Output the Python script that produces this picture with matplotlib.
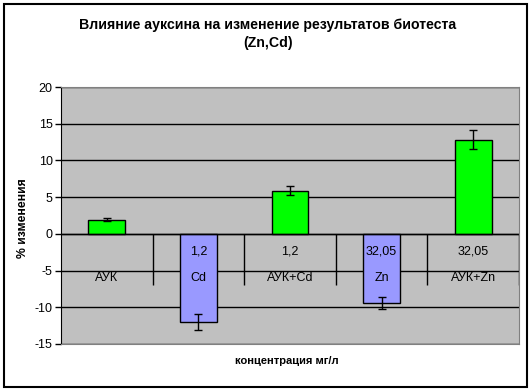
import matplotlib.pyplot as plt
import numpy as np
from matplotlib.patches import Rectangle

plt.rcParams['font.family'] = ['Liberation Sans', 'DejaVu Sans']
plt.rcParams['axes.unicode_minus'] = False

# Данные
names = ['АУК', 'Cd', 'АУК+Cd', 'Zn', 'АУК+Zn']
conc = ['', '1,2', '1,2', '32,05', '32,05']
values = [1.9, -12.0, 5.9, -9.4, 12.8]
errors = [0.2, 1.15, 0.6, 0.85, 1.3]
colors = ['#00FF00', '#9999FF', '#00FF00', '#9999FF', '#00FF00']

W, H = 532, 391
fig = plt.figure(figsize=(W / 100, H / 100), dpi=100)
ax = fig.add_axes([61 / W, 1 - 344 / H, (519 - 61) / W, (344 - 87) / H])
ax.set_facecolor('#C0C0C0')

x = np.arange(len(names))
ax.set_axisbelow(True)
ax.yaxis.grid(True, color='black', linewidth=1)
ax.bar(x, values, width=0.4, color=colors, edgecolor='black', linewidth=1, zorder=2)
ax.errorbar(x, values, yerr=errors, fmt='none', ecolor='black', elinewidth=1,
            capsize=3, capthick=1, zorder=3)

# ось категорий на нуле
ax.axhline(0, color='black', linewidth=1, zorder=2.5)
ax.vlines(x + 0.5, -6.9, 0, color='black', linewidth=1, zorder=2.5)
for i in x:
    if conc[i]:
        ax.text(i, -2.4, conc[i], ha='center', va='center', fontsize=9, zorder=4)
    ax.text(i, -6.0, names[i], ha='center', va='center', fontsize=9, zorder=4)

ax.set_xlim(-0.5, len(names) - 0.5)
ax.set_ylim(-15, 20)
ax.set_yticks(np.arange(-15, 21, 5))
ax.set_xticks([])
ax.tick_params(axis='y', labelsize=9, length=4, width=1, pad=2)
for s in ['top', 'right', 'bottom']:
    ax.spines[s].set_color('#808080')
ax.spines['left'].set_color('black')

ax.set_ylabel('% изменения', fontsize=8.8, fontweight='bold')
ax.yaxis.set_label_coords((29 - 61) / (519 - 61), 0.49)
fig.text(287 / W, 1 - 361 / H, 'концентрация мг/л', ha='center', va='center',
         fontsize=8, fontweight='bold')
fig.text(268 / W, 1 - 34 / H, 'Влияние ауксина на изменение результатов биотеста\n(Zn,Cd)',
         ha='center', va='center', fontsize=10.2, fontweight='bold', linespacing=1.4)

fig.patches.append(Rectangle((4 / W, 4 / H), (527 - 4) / W, (387 - 4) / H,
                             transform=fig.transFigure, fill=False,
                             edgecolor='black', linewidth=1.5))

fig.savefig('out.png', dpi=100)
